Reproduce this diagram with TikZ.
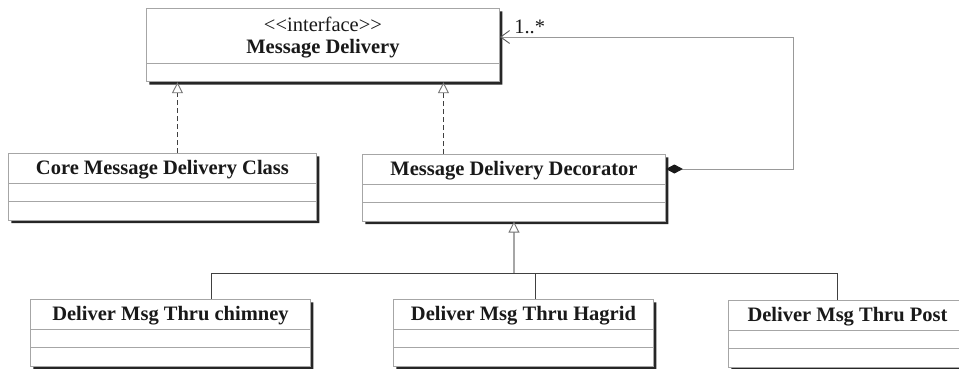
\documentclass[tikz,border=0pt]{standalone}
\usepackage{fontspec}
\setmainfont{Liberation Serif}
\usetikzlibrary{shapes.multipart, arrows.meta, shadows}
\tikzset{
  umlclass/.style = {rectangle split, rectangle split parts=3, draw=black!35, fill=white, line width=0.9pt, anchor=north west, inner xsep=4pt, inner ysep=0pt, rectangle split empty part height=17.5pt, rectangle split empty part depth=0pt, align=center, text=black!90, font=\fontsize{20.5}{22}\selectfont\bfseries, drop shadow={shadow xshift=3pt, shadow yshift=-3pt, fill=black!85, opacity=1}},
  realize/.style = {draw=black!75, line width=0.9pt, dash pattern=on 5pt off 3pt, -{Triangle[length=11pt, width=11pt, color=black!55, fill=white, line width=0.9pt]}},
  inherit/.style = {draw=black!35, line width=1.2pt, -{Triangle[length=11pt, width=11pt, color=black!55, fill=white, line width=0.9pt]}},
  branch/.style = {draw=black!75, line width=0.9pt},
  aggr/.style = {draw=black!40, line width=0.9pt, {Diamond[length=17pt, width=9pt, black!90]}-{Straight Barb[length=9pt, width=13pt, black!65]}},
  mult/.style = {font=\fontsize{20.5}{22}\selectfont, text=black!90, inner sep=2pt}
}

\begin{document}
\begin{tikzpicture}[x=1pt, y=-1pt]
\useasboundingbox (0,0) rectangle (959,369);
\clip (0,0) rectangle (959,369);

% Interface at the top
\node[umlclass, rectangle split parts=2, minimum width=353pt] (iface) at (146,8)
  {\mdseries\rule{0pt}{23pt}\textless\kern0pt\textless interface\textgreater\kern0pt\textgreater\\ Message Delivery\rule[-9pt]{0pt}{9pt}};

% Middle row
\node[umlclass, minimum width=308pt] (core) at (8,153) {\rule[-8pt]{0pt}{29pt}Core Message Delivery Class};
\node[umlclass, minimum width=303pt] (decor) at (362,154) {\rule[-8pt]{0pt}{29pt}Message Delivery Decorator};

% Bottom row (last one runs off the page)
\node[umlclass, minimum width=280pt] (chimney) at (30,299) {\rule[-8pt]{0pt}{29pt}Deliver Msg Thru chimney};
\node[umlclass, minimum width=260pt] (hagrid) at (393,299) {\rule[-8pt]{0pt}{29pt}Deliver Msg Thru Hagrid};
\node[umlclass, minimum width=262pt] (post) at (728,300) {\rule[-8pt]{0pt}{29pt}Deliver Msg Thru Post\hspace*{24pt}};

\coordinate (bus) at (0,273);
\coordinate (loop) at (793,37);

% Realizations
\draw[realize] ([xshift=15pt]core.north) -- ([xshift=15pt]core.north |- iface.south);
\draw[realize] ([xshift=-70.5pt]decor.north) -- ([xshift=-70.5pt]decor.north |- iface.south);

% Decorator wraps the interface
\draw[aggr] ([yshift=-15pt]decor.north east) -| (loop) -- ([yshift=-29pt]iface.north east)
  node[mult, anchor=south west, pos=1, xshift=12pt, yshift=1pt] {1..*};

% Generalizations
\draw[inherit] (decor.south |- bus) -- (decor.south);
\draw[branch] ([xshift=41pt]chimney.north) |- ([xshift=-22pt]post.north |- bus) -- ([xshift=-22pt]post.north);
\draw[branch] ([xshift=12pt]hagrid.north) -- ([xshift=12pt]hagrid.north |- bus);

\end{tikzpicture}
\end{document}
